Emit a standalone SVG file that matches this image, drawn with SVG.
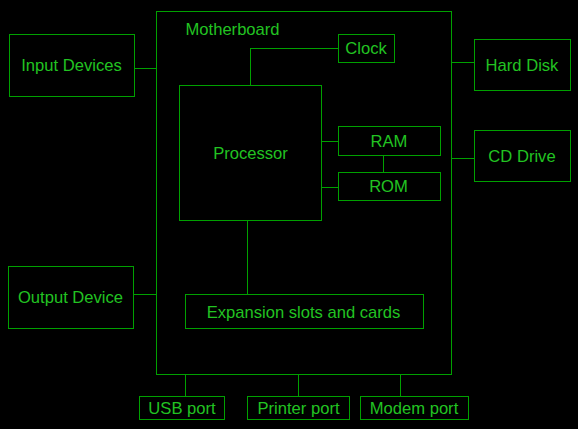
<svg xmlns="http://www.w3.org/2000/svg" width="578" height="429" viewBox="0 0 578 429">
<style>
.b{fill:none;stroke:#00a000;stroke-width:1;shape-rendering:crispEdges}
.c{fill:none;stroke:#00a000;stroke-width:1;shape-rendering:crispEdges}
text{font-family:"Liberation Sans",Arial,sans-serif;font-size:16.6px;fill:#22c322;text-anchor:middle}
</style>
<rect x="0" y="0" width="578" height="429" fill="#000"/>
<g id="connectors">
<path class="c" d="M134.5 68.5H156.5"/>
<path class="c" d="M133.5 294.5H156.5"/>
<path class="c" d="M451.5 62.5H474.5"/>
<path class="c" d="M451.5 158.5H474.5"/>
<path class="c" d="M250.5 85.5V48.5H338.5"/>
<path class="c" d="M321.5 141.5H338.5"/>
<path class="c" d="M321.5 187.5H338.5"/>
<path class="c" d="M383.5 155.5V172.5"/>
<path class="c" d="M247.5 220.5V294.5"/>
<path class="c" d="M185.5 374.5V396.5"/>
<path class="c" d="M298.5 374.5V396.5"/>
<path class="c" d="M400.5 374.5V396.5"/>
</g>
<g id="motherboard"><rect class="b" x="156.5" y="11.5" width="295" height="363"/><text x="185.5" y="35" style="text-anchor:start">Motherboard</text></g>
<g id="input"><rect class="b" x="9.5" y="34.5" width="125" height="62"/><text x="71.5" y="71">Input Devices</text></g>
<g id="output"><rect class="b" x="8.5" y="266.5" width="125" height="62"/><text x="70.5" y="303">Output Device</text></g>
<g id="clock"><rect class="b" x="338.5" y="34.5" width="56" height="28"/><text x="366" y="54">Clock</text></g>
<g id="harddisk"><rect class="b" x="474.5" y="39.5" width="96" height="51"/><text x="522" y="70.5">Hard Disk</text></g>
<g id="cddrive"><rect class="b" x="474.5" y="130.5" width="96" height="51"/><text x="522" y="161.5">CD Drive</text></g>
<g id="processor"><rect class="b" x="179.5" y="85.5" width="142" height="135"/><text x="250.5" y="158.5">Processor</text></g>
<g id="ram"><rect class="b" x="338.5" y="126.5" width="102" height="29"/><text x="389" y="146.5">RAM</text></g>
<g id="rom"><rect class="b" x="338.5" y="172.5" width="102" height="28"/><text x="388.5" y="192">ROM</text></g>
<g id="expansion"><rect class="b" x="185.5" y="294.5" width="238" height="34"/><text x="303.5" y="318">Expansion slots and cards</text></g>
<g id="usb"><rect class="b" x="139.5" y="396.5" width="85" height="23"/><text x="182" y="414">USB port</text></g>
<g id="printer"><rect class="b" x="247.5" y="396.5" width="102" height="23"/><text x="298.5" y="414">Printer port</text></g>
<g id="modem"><rect class="b" x="360.5" y="396.5" width="108" height="23"/><text x="414" y="414">Modem port</text></g>
</svg>
